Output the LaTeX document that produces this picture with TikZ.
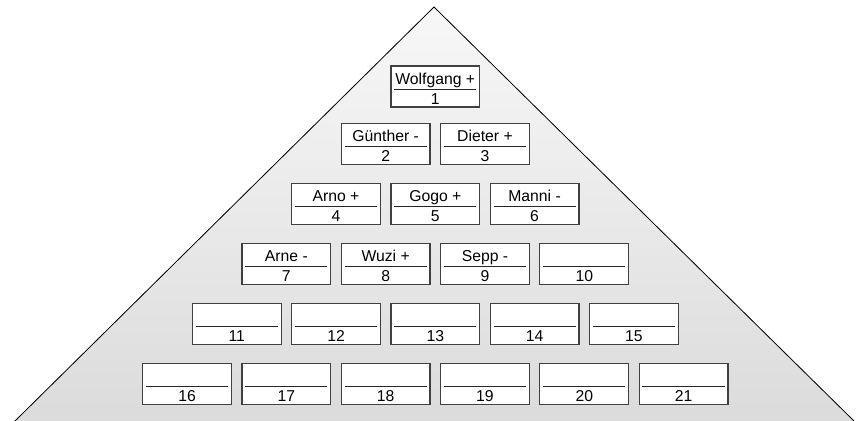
\documentclass[tikz,border=0pt]{standalone}
\usepackage{fontspec}
\setmainfont{Liberation Sans}
\usetikzlibrary{positioning}

\begin{document}
\begin{tikzpicture}[x=0.75pt,y=0.75pt,
	pbox/.style={draw=black!75,line width=0.9pt,fill=white,minimum width=66.6pt,minimum height=30.8pt,inner sep=0pt,
		path picture={\draw[black!85,line width=0.75pt] ([xshift=2.5pt,yshift=-17.5pt]path picture bounding box.north west) -- ([xshift=-2.5pt,yshift=-17.5pt]path picture bounding box.north east);}},
	pname/.style={anchor=base,inner sep=0pt,font=\fontsize{11.8}{14}\selectfont},
	pnum/.style={anchor=base,inner sep=0pt,font=\fontsize{11.8}{14}\selectfont}]
	\useasboundingbox (0,0) rectangle (858,421);
	% pyramid
	\coordinate (left) at (15,0);
	\coordinate (apex) at (434,414);
	\coordinate (right) at (854,0);
	\fill[top color=white!97!black,bottom color=black!14] (left) -- (apex) -- (right) -- cycle;
	\draw[line width=0.6pt] (left) -- (apex) -- (right);
	% row 1
	\node[pbox] (b1) at (435.3,334.5) {};
	\node[pname] (n1) at ([yshift=-14.25pt]b1.north) {Wolfgang +};
	\node[pnum] (m1) at ([yshift=2.5pt]b1.south) {1};
	% row 2
	\node[pbox] (b2) at (385.65,277) {};
	\node[pname] (n2) at ([yshift=-14.25pt]b2.north) {Günther -};
	\node[pnum] (m2) at ([yshift=2.5pt]b2.south) {2};
	\node[pbox] (b3) at (484.95,277) {};
	\node[pname] (n3) at ([yshift=-14.25pt]b3.north) {Dieter +};
	\node[pnum] (m3) at ([yshift=2.5pt]b3.south) {3};
	% row 3
	\node[pbox] (b4) at (336,217) {};
	\node[pname] (n4) at ([yshift=-14.25pt]b4.north) {Arno +};
	\node[pnum] (m4) at ([yshift=2.5pt]b4.south) {4};
	\node[pbox] (b5) at (435.3,217) {};
	\node[pname] (n5) at ([yshift=-14.25pt]b5.north) {Gogo +};
	\node[pnum] (m5) at ([yshift=2.5pt]b5.south) {5};
	\node[pbox] (b6) at (534.6,217) {};
	\node[pname] (n6) at ([yshift=-14.25pt]b6.north) {Manni -};
	\node[pnum] (m6) at ([yshift=2.5pt]b6.south) {6};
	% row 4
	\node[pbox] (b7) at (286.35,157) {};
	\node[pname] (n7) at ([yshift=-14.25pt]b7.north) {Arne -};
	\node[pnum] (m7) at ([yshift=2.5pt]b7.south) {7};
	\node[pbox] (b8) at (385.65,157) {};
	\node[pname] (n8) at ([yshift=-14.25pt]b8.north) {Wuzi +};
	\node[pnum] (m8) at ([yshift=2.5pt]b8.south) {8};
	\node[pbox] (b9) at (484.95,157) {};
	\node[pname] (n9) at ([yshift=-14.25pt]b9.north) {Sepp -};
	\node[pnum] (m9) at ([yshift=2.5pt]b9.south) {9};
	\node[pbox] (b10) at (584.25,157) {};
	\node[pnum] (m10) at ([yshift=2.5pt]b10.south) {10};
	% row 5
	\node[pbox] (b11) at (236.7,97) {};
	\node[pnum] (m11) at ([yshift=2.5pt]b11.south) {11};
	\node[pbox] (b12) at (336,97) {};
	\node[pnum] (m12) at ([yshift=2.5pt]b12.south) {12};
	\node[pbox] (b13) at (435.3,97) {};
	\node[pnum] (m13) at ([yshift=2.5pt]b13.south) {13};
	\node[pbox] (b14) at (534.6,97) {};
	\node[pnum] (m14) at ([yshift=2.5pt]b14.south) {14};
	\node[pbox] (b15) at (633.9,97) {};
	\node[pnum] (m15) at ([yshift=2.5pt]b15.south) {15};
	% row 6
	\node[pbox] (b16) at (187.05,37) {};
	\node[pnum] (m16) at ([yshift=2.5pt]b16.south) {16};
	\node[pbox] (b17) at (286.35,37) {};
	\node[pnum] (m17) at ([yshift=2.5pt]b17.south) {17};
	\node[pbox] (b18) at (385.65,37) {};
	\node[pnum] (m18) at ([yshift=2.5pt]b18.south) {18};
	\node[pbox] (b19) at (484.95,37) {};
	\node[pnum] (m19) at ([yshift=2.5pt]b19.south) {19};
	\node[pbox] (b20) at (584.25,37) {};
	\node[pnum] (m20) at ([yshift=2.5pt]b20.south) {20};
	\node[pbox] (b21) at (683.55,37) {};
	\node[pnum] (m21) at ([yshift=2.5pt]b21.south) {21};
\end{tikzpicture}
\end{document}
